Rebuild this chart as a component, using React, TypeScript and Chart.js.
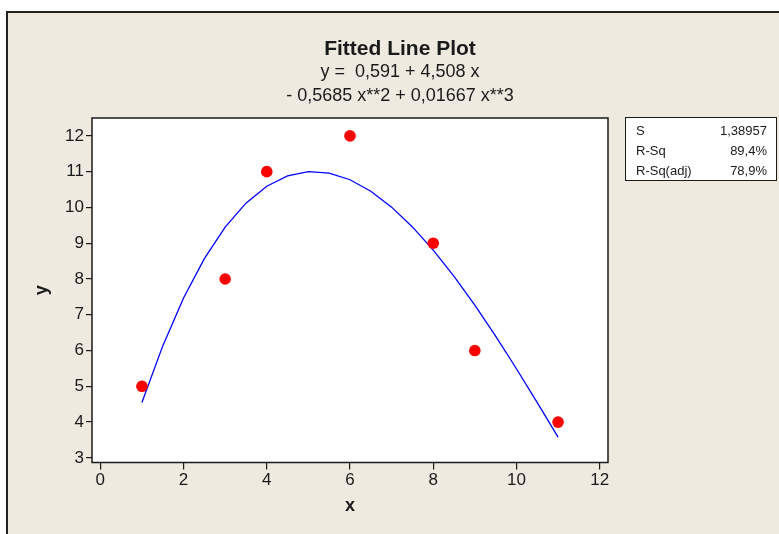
import React, { useEffect, useRef } from "react";
import { Chart, registerables } from "chart.js";

Chart.register(...registerables);

// Observed data
const xValues = [1, 3, 4, 6, 8, 9, 11];
const yValues = [5, 8, 11, 12, 9, 6, 4];

// Cubic regression coefficients: b0, b1, b2, b3
const coefficients = [0.591, 4.508, -0.5685, 0.01667];
const fitStart = 1;
const fitEnd = 11;
const fitStep = 0.5;

// Header text
const titleText = "Fitted Line Plot";
const equationLines = ["y =  0,591 + 4,508 x", "- 0,5685 x**2 + 0,01667 x**3"];

// Summary statistics box
const statLabels = ["S", "R-Sq", "R-Sq(adj)"];
const statValues = ["1,38957", "89,4%", "78,9%"];

const xAxisTitle = "x";
const yAxisTitle = "y";

const W = 779;
const H = 534;
const FONT = "'Liberation Sans', Arial, sans-serif";
const BG = "#EEEAE0";
const INK = "#1a1a1a";

function fitPoints() {
  const pts: { x: number; y: number }[] = [];
  for (let x = fitStart; x <= fitEnd + 1e-9; x += fitStep) {
    const y = coefficients.reduce((s, c, i) => s + c * Math.pow(x, i), 0);
    pts.push({ x, y });
  }
  return pts;
}

const framePlugin = {
  id: "minitabFrame",
  beforeDraw(chart: any) {
    const { ctx, chartArea } = chart;
    ctx.save();
    ctx.fillStyle = "#ffffff";
    ctx.fillRect(0, 0, W, H);
    ctx.fillStyle = BG;
    ctx.fillRect(7, 12, W - 7, H - 12);
    ctx.strokeStyle = "#222";
    ctx.lineWidth = 2;
    ctx.beginPath();
    ctx.moveTo(7, H);
    ctx.lineTo(7, 12);
    ctx.lineTo(W, 12);
    ctx.stroke();
    ctx.fillStyle = "#ffffff";
    ctx.fillRect(chartArea.left, chartArea.top, chartArea.right - chartArea.left, chartArea.bottom - chartArea.top);
    ctx.restore();
  },
  afterDraw(chart: any) {
    const { ctx, chartArea } = chart;
    ctx.save();
    // plot border
    ctx.strokeStyle = INK;
    ctx.lineWidth = 1.5;
    ctx.strokeRect(chartArea.left, chartArea.top, chartArea.right - chartArea.left, chartArea.bottom - chartArea.top);

    // title block
    ctx.fillStyle = INK;
    ctx.textAlign = "center";
    ctx.textBaseline = "middle";
    ctx.font = `bold 21px ${FONT}`;
    ctx.fillText(titleText, 400, 49);
    ctx.font = `18px ${FONT}`;
    ctx.fillText(equationLines[0], 400, 72);
    ctx.fillText(equationLines[1], 400, 96);

    // axis titles
    ctx.font = `bold 18px ${FONT}`;
    ctx.fillText(xAxisTitle, (chartArea.left + chartArea.right) / 2, 506);
    ctx.save();
    ctx.translate(42, (chartArea.top + chartArea.bottom) / 2);
    ctx.rotate(-Math.PI / 2);
    ctx.fillText(yAxisTitle, 0, 0);
    ctx.restore();

    // statistics box
    const bx = 625.5, by = 117.5, bw = 151, bh = 63;
    ctx.fillStyle = "#ffffff";
    ctx.fillRect(bx, by, bw, bh);
    ctx.strokeStyle = INK;
    ctx.lineWidth = 1;
    ctx.strokeRect(bx, by, bw, bh);
    ctx.fillStyle = INK;
    ctx.font = `13px ${FONT}`;
    statLabels.forEach((label, i) => {
      const ty = 131 + i * 20;
      ctx.textAlign = "left";
      ctx.fillText(label, 636, ty);
      ctx.textAlign = "right";
      ctx.fillText(statValues[i], 767, ty);
    });
    ctx.restore();
  },
};

export default function App() {
  const canvasRef = useRef<HTMLCanvasElement | null>(null);

  useEffect(() => {
    const canvas = canvasRef.current;
    if (!canvas) return;
    const tickFont = { family: FONT, size: 17 };
    const chart = new Chart(canvas, {
      type: "scatter",
      data: {
        datasets: [
          {
            label: "Fit",
            data: fitPoints(),
            showLine: true,
            borderColor: "#0000FF",
            borderWidth: 1.3,
            pointRadius: 0,
            tension: 0,
            order: 2,
          },
          {
            label: "Data",
            data: xValues.map((x, i) => ({ x, y: yValues[i] })),
            backgroundColor: "#FF0000",
            borderWidth: 0,
            pointRadius: 5.8,
            order: 1,
          },
        ],
      },
      options: {
        responsive: false,
        animation: false,
        layout: { padding: { top: 118, right: 171, left: 0, bottom: 0 } },
        plugins: { legend: { display: false }, tooltip: { enabled: false } },
        scales: {
          x: {
            type: "linear",
            min: -0.2,
            max: 12.2,
            afterFit: (s: any) => { s.height = 71.5; },
            border: { display: false },
            grid: { drawOnChartArea: false, drawTicks: true, tickLength: 7, color: INK, lineWidth: 1.2 },
            ticks: { stepSize: 2, includeBounds: false, font: tickFont, color: INK, padding: 1 },
          },
          y: {
            type: "linear",
            min: 2.87,
            max: 12.5,
            afterFit: (s: any) => { s.width = 92; },
            border: { display: false },
            grid: { drawOnChartArea: false, drawTicks: true, tickLength: 6, color: INK, lineWidth: 1.2 },
            ticks: { stepSize: 1, includeBounds: false, font: tickFont, color: INK, padding: 2 },
          },
        },
      },
      plugins: [framePlugin],
    });
    return () => chart.destroy();
  }, []);

  return (
    <div style={{ position: "fixed", left: 0, top: 0, width: W, height: H }}>
      <canvas ref={canvasRef} width={W} height={H} style={{ width: W, height: H, display: "block" }} />
    </div>
  );
}
